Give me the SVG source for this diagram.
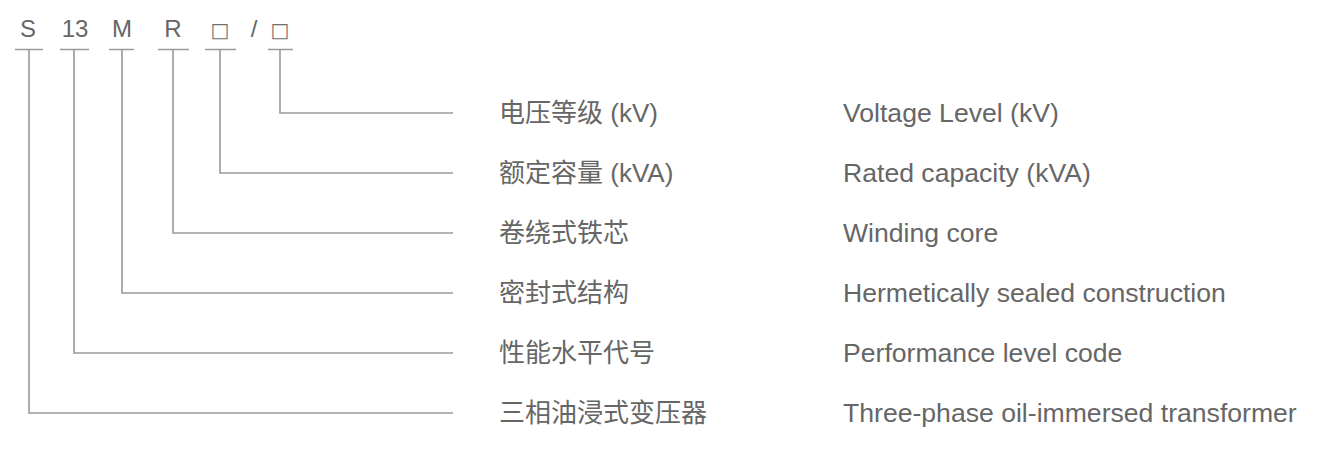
<svg xmlns="http://www.w3.org/2000/svg" width="1332" height="453" viewBox="0 0 1332 453">
<style>
.code{font-family:"Liberation Sans",Arial,sans-serif;font-size:24px;fill:#666;text-anchor:middle}
.sq{font-family:"DejaVu Sans",sans-serif;font-size:20px;fill:#707070;text-anchor:middle}
.zh{font-family:"Liberation Sans","Noto Sans CJK SC",sans-serif;font-size:26px;fill:#666}
.en{font-family:"Liberation Sans",Arial,sans-serif;font-size:26.6px;fill:#666}
.ln{fill:none;stroke:#9a9a9a;stroke-width:1.6}
</style>
<rect width="1332" height="453" fill="#fff"/>
<g id="code">
<text class="code" x="28" y="37">S</text>
<text class="code" x="75" y="37">13</text>
<text class="code" x="122" y="37">M</text>
<text class="code" x="173" y="37">R</text>
<text class="sq" x="220" y="37">□</text>
<text class="code" x="254" y="37">/</text>
<text class="sq" x="280" y="37">□</text>
</g>
<g id="connectors">
<path class="ln" d="M15 49.5H43M29 49.5V413H453"/>
<path class="ln" d="M60 49.5H89M74 49.5V353H453"/>
<path class="ln" d="M109 49.5H134M122 49.5V293H453"/>
<path class="ln" d="M158 49.5H189M173 49.5V233H453"/>
<path class="ln" d="M205 49.5H236M220 49.5V173H453"/>
<path class="ln" d="M268 49.5H293M280 49.5V113H453"/>
</g>
<g id="row1"><text class="zh" x="499" y="122">电压等级 (kV)</text><text class="en" x="843" y="122">Voltage Level (kV)</text></g>
<g id="row2"><text class="zh" x="499" y="182">额定容量 (kVA)</text><text class="en" x="843" y="182">Rated capacity (kVA)</text></g>
<g id="row3"><text class="zh" x="499" y="242">卷绕式铁芯</text><text class="en" x="843" y="242">Winding core</text></g>
<g id="row4"><text class="zh" x="499" y="302">密封式结构</text><text class="en" x="843" y="302">Hermetically sealed construction</text></g>
<g id="row5"><text class="zh" x="499" y="362">性能水平代号</text><text class="en" x="843" y="362">Performance level code</text></g>
<g id="row6"><text class="zh" x="499" y="422">三相油浸式变压器</text><text class="en" x="843" y="422">Three-phase oil-immersed transformer</text></g>
</svg>
